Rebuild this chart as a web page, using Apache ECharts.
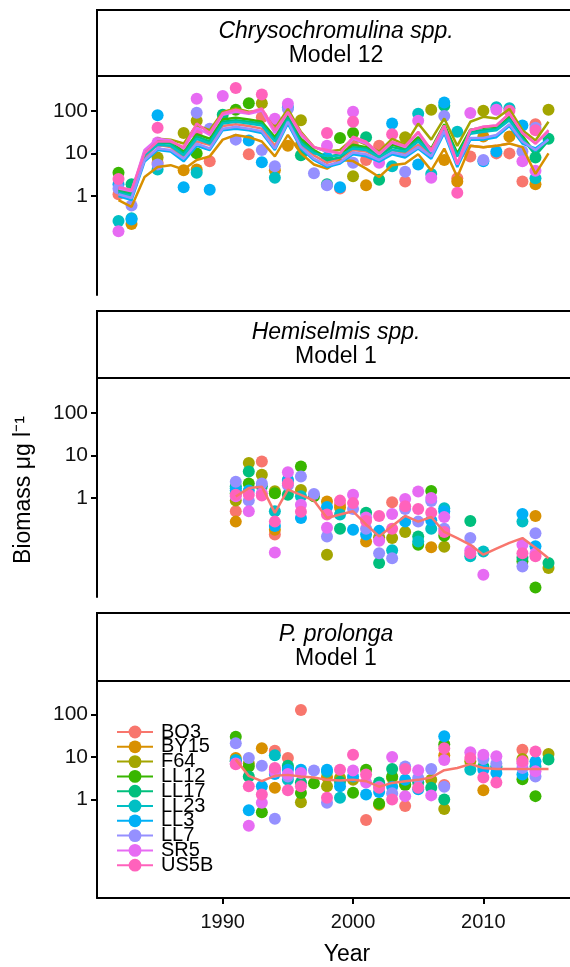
<!DOCTYPE html>
<html><head><meta charset="utf-8">
<script src="https://cdn.jsdelivr.net/npm/echarts@6/dist/echarts.min.js"></script>
<style>html,body{margin:0;padding:0;background:#fff}#c{width:570px;height:967px}</style>
</head><body><div id="c"></div>
<script>
const SITES = ['BO3','BY15','F64','LL12','LL17','LL23','LL3','LL7','SR5','US5B'];
const COLORS = ['#F8766D','#D89000','#A3A500','#39B600','#00BF7D','#00BFC4','#00B0F6','#9590FF','#E76BF3','#FF62BC'];
const YEARS = [1982,1983,1984,1985,1986,1987,1988,1989,1990,1991,1992,1993,1994,1995,1996,1997,1998,1999,2000,2001,2002,2003,2004,2005,2006,2007,2008,2009,2010,2011,2012,2013,2014,2015];
const MODEL1_YEARS = [1991,1992,1993,1994,1995,1996,1997,1998,1999,2000,2001,2002,2003,2004,2005,2006,2007,2008,2009,2010,2011,2012,2013,2014,2015];
const X_TICKS = [1990,2000,2010];
const Y_TICKS = [1,10,100];
const PANEL_TITLES = ['Chrysochromulina spp.','Hemiselmis spp.','P. prolonga'];
const PANEL_MODELS = ['Model 12','Model 1','Model 1'];

// Chrysochromulina spp. observed points, one list per site (SITES order)
const chryPoints = [
 [[1982,1.1],[1985,6],[1989,6.5],[1992,9.5],[1993,70],[1999,1.5],[2000,15],[2001,7],[2002,15],[2004,2.2],[2008,2.6],[2009,8.5],[2011,10],[2012,10],[2013,2.2],[2014,48]],
 [[1983,0.22],[1987,4],[1988,4.2],[1994,4],[1995,15],[1996,16],[2001,1.8],[2007,7],[2008,2.2],[2010,25],[2012,25],[2014,1.9]],
 [[1985,8],[1987,30],[1988,58],[1993,150],[1994,60],[1996,60],[2000,2.9],[2004,24],[2006,105],[2010,100],[2015,105]],
 [[1982,3.5],[1988,10],[1991,105],[1992,150],[1999,23],[2000,30]],
 [[1983,1.9],[1990,80],[1996,9],[1998,1.9],[2001,24],[2002,2.4],[2007,130],[2014,8],[2015,22]],
 [[1982,0.26],[1983,0.3],[1985,4.2],[1988,3.5],[1994,2.7],[2003,5],[2005,85],[2006,3.3],[2008,32],[2011,120],[2012,115],[2014,2.6]],
 [[1982,1.9],[1983,0.28],[1985,78],[1987,1.6],[1989,1.4],[1992,20],[1993,6.2],[1995,120],[1998,8],[1999,1.6],[2003,50],[2005,5.5],[2007,155],[2010,6.5],[2011,11],[2013,45]],
 [[1982,1.5],[1983,0.6],[1985,5.5],[1988,90],[1989,38],[1991,21],[1993,12],[1994,5],[1995,110],[1997,3.4],[1998,1.8],[2000,6],[2004,3.7],[2007,75],[2010,7],[2013,11],[2014,40]],
 [[1982,0.15],[1985,18],[1988,190],[1990,220],[1994,65],[1995,145],[1998,15],[2000,95],[2002,6],[2005,58],[2006,2.7],[2009,88],[2011,105],[2013,6.5],[2014,3.9]],
 [[1982,2.5],[1985,40],[1988,30],[1991,340],[1993,240],[1998,30],[2000,55],[2003,28],[2008,1.2],[2012,100],[2014,35]]
];
// Chrysochromulina spp. fitted lines (Model 12), one value per YEARS entry
const chryLines = [
 [1.2,1.0,8,16,14,8,19,16,44,48,44,38,15,62,16,9,6,7.5,12,11,8,12,10,16,9.5,38,6,15,14,15,17,null,null,null],
 [0.8,0.56,2.8,4.8,5.3,4.2,7,8.5,21,27,24,19,8.5,27,10,5.5,4.4,7,6.6,4.4,2.8,5.3,5.8,9.5,4,13,2.8,15,14,15,17,14,3.3,10],
 [1.5,1.3,9,22,21,17,45,35,94,113,95,100,38,110,32,14,11,12,22,16,11,22,16,50,21,66,15,55,72,66,110,35,20,55],
 [1.4,1.2,11,20,19,11,28,22,62,68,62,55,24,78,22,12,8,9.5,16,14,10,16,13,24,13,48,10,36,40,42,72,26,10,23],
 [1.3,1.1,10,18,17,10,25,19,55,60,55,50,21,70,19,11,7,8,14,13,9,14,12,21,11,42,9,32,35,38,66,23,9,20],
 [1.2,1.0,9,16,15,9,22,17,50,55,50,45,19,60,17,10,8.5,9,13,12,8,12,11,19,10,38,8.5,29,32,35,60,21,11,22],
 [1.0,0.8,6.4,12,11,6.5,15,12,35,38,35,30,12,50,13,7,4.8,5.8,9.5,8.5,6.4,9.5,8,13,7.5,30,4.8,21,21,24,44,17,13,22],
 [1.1,0.9,7,13,12,7.5,17,13,38,42,38,33,13,55,14,7.5,5.2,6.3,10.5,9.5,7,10.5,9,14,8.5,33,5.5,23,23,27,48,19,12,21],
 [1.5,1.3,12,22,20,13,40,27,80,95,85,100,30,90,27,14,11,10,22,17,9.5,18,14,30,11,44,5.5,35,42,45,85,30,17,33],
 [1.6,1.4,10,19,19,14,50,30,87,105,90,113,35,94,30,14,12,10,24.5,18.7,10,18.7,15,32,12,45,5.8,35,42,45,87,30,17,35]
];
// Hemiselmis spp.
const hemiPoints = [
 [[1991,0.49],[1993,7.2],[1994,0.14],[1999,0.7],[2003,0.8]],
 [[1991,0.28],[1994,0.18],[1998,0.83],[1999,0.6],[2001,0.096],[2006,0.07],[2014,0.38]],
 [[1991,0.87],[1992,6.6],[1993,3.5],[1994,1.45],[1996,1.55],[1998,0.047],[2002,0.12],[2003,0.115],[2004,0.16],[2007,0.072],[2015,0.023]],
 [[1991,1.3],[1992,2.2],[1994,1.3],[1996,5.5],[1997,1.1],[2005,0.08],[2006,1.47],[2007,0.13],[2013,0.033],[2014,0.008]],
 [[1991,1.9],[1992,4.2],[1993,1.9],[1995,1.2],[1999,0.19],[2001,0.45],[2002,0.03],[2005,0.126],[2009,0.29],[2013,0.04],[2015,0.03]],
 [[1991,1.7],[1994,0.49],[1995,2.7],[1996,1.1],[1999,0.41],[2003,0.06],[2005,0.096],[2006,0.19],[2007,0.58],[2009,0.043],[2010,0.056],[2013,0.28]],
 [[1991,1.5],[1992,1.5],[1994,0.22],[1995,2.5],[1996,0.34],[1998,0.62],[2000,0.18],[2001,0.14],[2002,0.17],[2004,0.28],[2006,0.3],[2007,0.49],[2013,0.42],[2014,0.074]],
 [[1991,2.4],[1992,0.87],[1993,2.2],[1995,2.0],[1996,3.2],[1997,1.25],[1998,0.126],[2000,0.55],[2001,0.19],[2002,0.051],[2003,0.039],[2004,0.55],[2005,0.28],[2006,0.85],[2007,0.19],[2009,0.115],[2013,0.025],[2014,0.15]],
 [[1991,1.1],[1992,0.49],[1993,1.3],[1994,0.053],[1995,4.0],[1996,0.7],[1998,0.2],[2000,1.2],[2001,0.35],[2002,0.1],[2003,0.42],[2004,0.95],[2005,1.43],[2006,1.0],[2007,0.36],[2009,0.06],[2010,0.016],[2013,0.08],[2014,0.05]],
 [[1991,1.2],[1992,1.2],[1993,1.15],[1994,0.28],[1995,2.2],[1996,0.48],[1998,0.41],[1999,0.87],[2000,0.76],[2001,0.29],[2002,0.38],[2003,0.19],[2004,0.64],[2005,0.55],[2006,0.45],[2007,0.16],[2009,0.051],[2013,0.051],[2014,0.043]]
];
const hemiLine = [1.09,1.71,1.85,0.45,1.57,1.19,0.87,0.34,0.41,0.49,0.24,0.126,0.22,0.38,0.28,0.36,0.16,0.115,0.08,0.047,0.065,0.089,0.115,0.068,0.039];
// P. prolonga
const proPoints = [
 [[1994,14],[1995,9.5],[1996,128],[2001,0.33],[2004,0.7],[2007,2.2],[2013,14.8]],
 [[1991,9.5],[1993,16],[1994,1.88],[1998,3.4],[2002,0.75],[2007,11],[2010,1.65]],
 [[1991,8],[1992,7],[1994,5],[1996,0.86],[1998,2.05],[1999,3.2],[2000,2.9],[2003,3.2],[2004,2.3],[2006,2.9],[2007,0.6],[2009,8],[2013,9],[2015,11.8]],
 [[1991,30],[1992,6],[1993,0.5],[1995,5.5],[1996,1.43],[1997,2.4],[2000,1.45],[2001,5.0],[2002,0.8],[2003,3.5],[2004,2.2],[2007,20],[2013,3.0],[2014,1.2]],
 [[1992,3.5],[1995,6.2],[1996,2.5],[1999,2.6],[2002,2.5],[2003,5.2],[2005,2.5],[2006,1.9],[2007,1.0],[2010,6],[2011,6],[2015,8.7]],
 [[1991,8.5],[1994,11],[1995,2.9],[1998,4.5],[1999,1.1],[2009,5.0],[2011,5.5],[2014,6]],
 [[1991,8],[1992,0.56],[1993,2.05],[1994,4],[1995,5],[1996,5.0],[1998,5.0],[1999,2.05],[2000,3.5],[2001,1.31],[2002,1.5],[2003,2],[2004,2.9],[2005,1.75],[2007,31],[2010,5],[2011,4.2],[2013,3.9],[2014,7.9]],
 [[1991,21],[1992,9.5],[1993,6.2],[1994,0.35],[1995,3.5],[1997,4.8],[1998,0.84],[2002,2.0],[2003,1.4],[2004,6],[2005,3.2],[2006,5.2],[2007,2.0],[2010,9],[2011,7],[2013,5.5],[2014,3.5]],
 [[1991,7],[1992,0.24],[1993,0.84],[1994,4.5],[1995,4],[1996,4.2],[2000,4.8],[2001,2.5],[2003,10],[2004,1.2],[2005,4.9],[2006,1.25],[2007,8.5],[2009,13],[2010,11.3],[2011,10.5],[2013,7],[2014,4.6]],
 [[1991,6.8],[1992,2.05],[1993,1.31],[1994,5.5],[1995,1.65],[1996,2.05],[1998,1.1],[1999,5.0],[2000,11.3],[2001,3.9],[2002,1.9],[2003,1.0],[2004,5.2],[2005,1.9],[2007,16],[2009,9.5],[2010,3.3],[2011,2.5],[2013,8],[2014,13.5]]
];
const proLine = [8.7,3.6,2.7,3.6,3.8,3.5,3.3,2.9,2.8,2.9,2.7,2.0,2.46,2.7,2.9,3.3,4.9,5.5,6.8,5.5,5.2,5.2,5.2,5.2,5.2];

const FONT = 'Liberation Sans, Arial, Helvetica, sans-serif';
const GRIDS = [{top:77,height:218},{top:379,height:218},{top:681,height:217}];
const STRIPS = [{top:10,h:66},{top:311,h:67},{top:613,h:68}];

const chart = echarts.init(document.getElementById('c'), null, {renderer:'canvas'});
const series = [];
SITES.forEach((s,i)=>{
  const d = [];
  YEARS.forEach((y,k)=>{ if (chryLines[i][k] != null) d.push([y, chryLines[i][k]]); });
  series.push({name:s,type:'line',xAxisIndex:0,yAxisIndex:0,data:d,symbol:'circle',showSymbol:false,symbolSize:12,
    lineStyle:{width:2.5,color:COLORS[i]},itemStyle:{color:COLORS[i]},z:3,silent:true,animation:false});
});
[chryPoints,hemiPoints,proPoints].forEach((pts,p)=>{
  SITES.forEach((s,i)=>{
    series.push({name:s,type:'scatter',xAxisIndex:p,yAxisIndex:p,data:pts[i],symbolSize:12,
      itemStyle:{color:COLORS[i],opacity:1},z:2,silent:true,animation:false});
  });
});
series.push({name:'BO3',type:'line',xAxisIndex:1,yAxisIndex:1,data:MODEL1_YEARS.map((y,k)=>[y,hemiLine[k]]),
  showSymbol:false,lineStyle:{width:2.5,color:COLORS[0]},itemStyle:{color:COLORS[0]},z:3,silent:true,animation:false});
series.push({name:'BO3',type:'line',xAxisIndex:2,yAxisIndex:2,data:MODEL1_YEARS.map((y,k)=>[y,proLine[k]]),
  showSymbol:false,lineStyle:{width:2.5,color:COLORS[0]},itemStyle:{color:COLORS[0]},z:3,silent:true,animation:false});

const graphic = [];
STRIPS.forEach((st,p)=>{
  graphic.push({type:'rect',shape:{x:97,y:st.top,width:480,height:st.h},style:{fill:'#fff',stroke:'#000',lineWidth:2},z:10});
  graphic.push({type:'text',x:336,y:st.top+22,style:{text:PANEL_TITLES[p],font:'italic 23px '+FONT,fill:'#000',textAlign:'center',textVerticalAlign:'middle'},z:11});
  graphic.push({type:'text',x:336,y:st.top+46,style:{text:PANEL_MODELS[p],font:'23px '+FONT,fill:'#000',textAlign:'center',textVerticalAlign:'middle'},z:11});
});
graphic.push({type:'text',x:347,y:955,style:{text:'Year',font:'23px '+FONT,fill:'#000',textAlign:'center',textVerticalAlign:'middle'}});
graphic.push({type:'text',x:24,y:490,rotation:Math.PI/2,style:{text:'Biomass \u03bcg l\u207b\u00b9',font:'23px '+FONT,fill:'#000',textAlign:'center',textVerticalAlign:'middle'}});

chart.setOption({
  animation:false,
  backgroundColor:'#fff',
  grid: GRIDS.map(g=>({left:97,top:g.top,width:476,height:g.height,containLabel:false})),
  xAxis: GRIDS.map((g,p)=>({type:'value',gridIndex:p,min:1980.35,max:2016.65,show:p===2,
    axisLine:{show:true,onZero:false,lineStyle:{color:'#000',width:2}},
    axisTick:{show:true,length:6,customValues:X_TICKS,lineStyle:{color:'#000',width:2}},
    axisLabel:{customValues:X_TICKS,fontSize:20,fontFamily:FONT,color:'#111',margin:14,formatter:v=>String(Math.round(v))},
    splitLine:{show:false}})),
  yAxis: GRIDS.map((g,p)=>({type:'log',logBase:10,gridIndex:p,min:0.00479,max:617,
    axisLine:{show:true,lineStyle:{color:'#000',width:2}},
    axisTick:{show:true,length:6,customValues:Y_TICKS,lineStyle:{color:'#000',width:2}},
    axisLabel:{customValues:Y_TICKS,fontSize:21,fontFamily:FONT,color:'#111',margin:9,formatter:v=>String(Math.round(v))},
    splitLine:{show:false},minorTick:{show:false}})),
  legend:{data:SITES,orient:'vertical',left:116,top:722,padding:0,itemWidth:36,itemHeight:16,itemGap:-5.2,
    selectedMode:false,textStyle:{fontSize:20,fontFamily:FONT,color:'#000',padding:[0,0,0,3]}},
  graphic: graphic,
  series: series
});
</script></body></html>
